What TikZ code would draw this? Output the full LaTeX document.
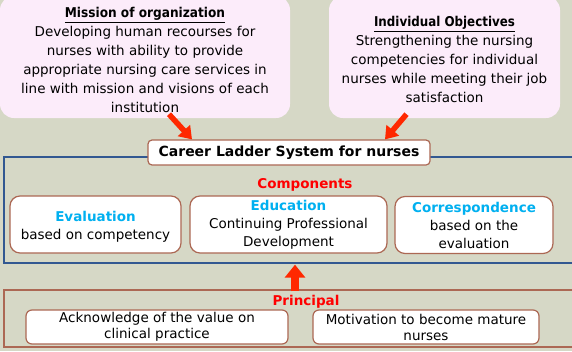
\documentclass[tikz,border=0pt]{standalone}
\usepackage{fontspec}
\usepackage{graphicx}
\setmainfont{DejaVu Sans}
\usetikzlibrary{arrows.meta}

\definecolor{ladderbg}{RGB}{214,216,198}
\definecolor{goalpink}{RGB}{252,236,250}
\definecolor{boxbrown}{RGB}{172,104,84}
\definecolor{frameblue}{RGB}{50,88,145}
\definecolor{titlecyan}{RGB}{0,176,240}
\definecolor{arrowred}{RGB}{255,40,0}

\newcommand{\goaltitle}[2]{\rule{0pt}{16pt}\scalebox{#1}[1]{\bfseries\underline{#2}}}

\begin{document}
\begin{tikzpicture}[x=1pt,y=-1pt]

\tikzstyle{goalbox}=[fill=goalpink,rounded corners=14pt,align=center,inner sep=0pt,font=\fontsize{13.5}{19}\selectfont]
\tikzstyle{ladderbox}=[draw=boxbrown,fill=white,line width=1.2pt,rounded corners=4pt,inner sep=0pt,font=\fontsize{14}{16}\selectfont\bfseries]
\tikzstyle{partbox}=[draw=boxbrown,fill=white,line width=1.2pt,rounded corners=10pt,align=center,inner sep=0pt,minimum height=57pt,font=\fontsize{13.5}{18}\selectfont]
\tikzstyle{principlebox}=[draw=boxbrown,fill=white,line width=1.2pt,rounded corners=6pt,align=center,inner sep=0pt,minimum height=34pt,font=\fontsize{13.5}{16}\selectfont]
\tikzstyle{groupframe}=[line width=1.3pt,inner sep=0pt,minimum width=586pt]
\tikzstyle{grouplabel}=[text=red,font=\fontsize{13.5}{16}\selectfont\bfseries]
\tikzstyle{pointer}=[draw=arrowred,line width=5.5pt,-{Triangle[width=16pt,length=12pt]}]
\tikzstyle{uppointer}=[draw=arrowred,line width=8pt,-{Triangle[width=20pt,length=13pt]}]

\useasboundingbox (0,0) rectangle (572,351);
\fill[ladderbg] (0,0) rectangle (572,351);
\clip (0,0) rectangle (572,351);

%frames behind everything
\node[groupframe,draw=frameblue,minimum height=106pt] (compframe) at (297,210) {};
\node[groupframe,draw=boxbrown,minimum height=57pt]  (prinframe) at (297,318.5) {};

%goals on top
\node[goalbox,minimum width=290pt,minimum height=122pt] (mission) at (145,57)
  {\goaltitle{0.9}{Mission of organization}\\
   Developing human recourses for\\
   nurses with ability to provide\\
   appropriate nursing care services in\\
   line with mission and visions of each\\
   institution};
\node[goalbox,minimum width=231pt,minimum height=122pt] (goals) at (444.5,57)
  {\goaltitle{0.88}{Individual Objectives}\\
   Strengthening the nursing\\
   competencies for individual\\
   nurses while meeting their job\\
   satisfaction};

%career ladder
\node[ladderbox,minimum width=282pt,minimum height=25pt] (career) at (289,152.5) {Career Ladder System for nurses};

%components
\node[grouplabel] (complabel) at (305,185) {Components};
\node[partbox,minimum width=171pt] (evaluation) at (95.5,224.5)
  {\rule{0pt}{14pt}{\bfseries\color{titlecyan}Evaluation}\\based on competency};
\node[partbox,minimum width=197pt] (education) at (288.5,224.5)
  {{\bfseries\color{titlecyan}Education}\\Continuing Professional\\Development};
\node[partbox,minimum width=158pt] (correspond) at (474,225)
  {{\bfseries\color{titlecyan}Correspondence}\\based on the\\evaluation};

%principal
\node[grouplabel] (prinlabel) at (306,302) {Principal};
\node[principlebox,minimum width=262pt] (acknowledge) at (157,327)
  {Acknowledge of the value on\\clinical practice};
\node[principlebox,minimum width=226pt] (motivation) at (426,327)
  {Motivation to become mature\\nurses};

%arrows
\path ([xshift=24pt,yshift=4pt]mission.south) edge[pointer] ([xshift=-97pt]career.north)
      ([xshift=-38pt,yshift=4pt]goals.south)  edge[pointer] ([xshift=96pt]career.north)
      ([xshift=-2pt,yshift=-2pt]prinframe.north) edge[uppointer] ([xshift=-2pt,yshift=-1pt]compframe.south);

\end{tikzpicture}
\end{document}
